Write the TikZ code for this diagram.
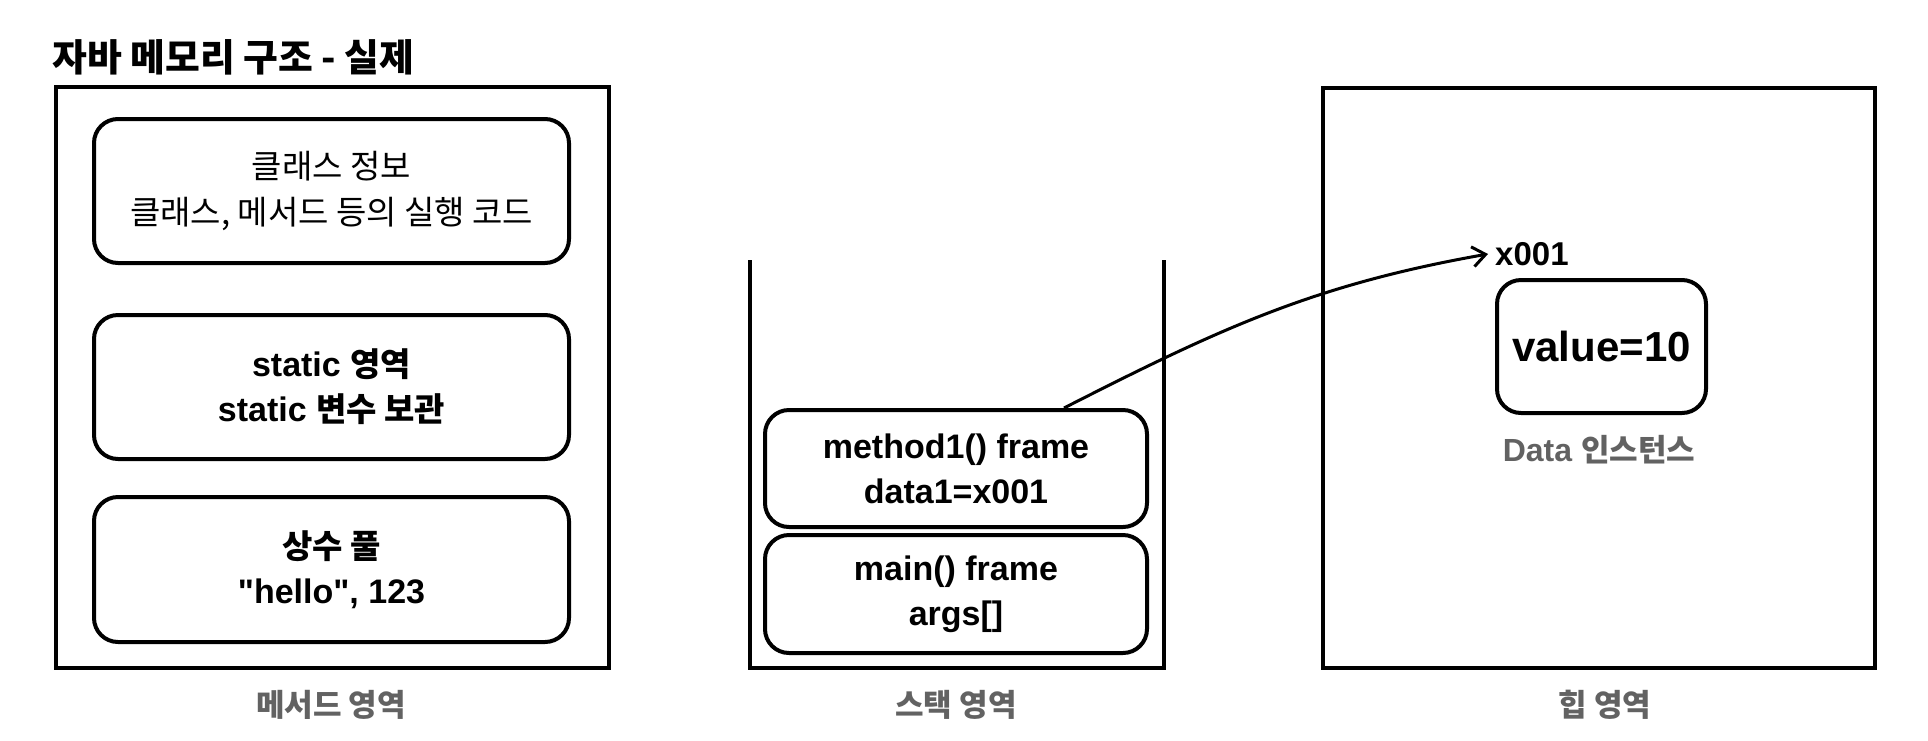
\documentclass[tikz,border=0pt]{standalone}
\usepackage{fontspec}
\setmainfont{Liberation Sans}
\newfontfamily\krfont[Scale=0.97]{Noto Sans CJK KR}
\newcommand{\kr}[1]{{\krfont #1}}
\usetikzlibrary{arrows.meta}
\definecolor{tagGray}{HTML}{626262}
\tikzset{
  font={\fontsize{34pt}{45pt}\selectfont\bfseries}}
\tikzset{
  area/.style={draw, line width=4pt, line join=miter},
  slot/.style={draw, line width=4pt, rounded corners=24pt, align=center},
  tag/.style={text=tagGray, font={\fontsize{32pt}{38pt}\selectfont\bfseries}}}

\begin{document}
\begin{tikzpicture}[x=10pt,y=10pt]
\tikzstyle{every node}+=[inner sep=0pt]
\useasboundingbox (0,0) rectangle (192.8,-74);
\node [anchor=west, font={\fontsize{39pt}{46pt}\selectfont\bfseries}] (title) at (5.2,-5.7) {\kr{자바 메모리 구조 - 실제}};
% method area
\node [area, minimum width=553pt, minimum height=581pt] (methodarea) at (33.25,-37.75) {};
\node [slot, minimum width=475pt, minimum height=144pt, font={\fontsize{34pt}{46pt}\selectfont\mdseries}] (classbox) at (33.15,-19.1) {\kr{클래스 정보}\\\kr{클래스, 메서드 등의 실행 코드}};
\node [slot, minimum width=475pt, minimum height=144pt] (staticbox) at (33.15,-38.7) {static \kr{영역}\\static \kr{변수 보관}};
\node [slot, minimum width=475pt, minimum height=145pt] (poolbox) at (33.15,-56.95) {\kr{상수 풀}\\\textquotedbl hello\textquotedbl, 123};
\node [tag] (methodtag) at (33.1,-70.5) {\kr{메서드 영역}};
% stack area
\draw [area] (75,-26) -- (75,-66.8) -- (116.4,-66.8) -- (116.4,-26);
\node [slot, minimum width=382pt, minimum height=117pt] (m1frame) at (95.6,-46.85) {method1() frame\\data1=x001};
\node [slot, minimum width=382pt, minimum height=118pt] (mainframe) at (95.6,-59.4) {main() frame\\args[]};
\node [tag] (stacktag) at (95.6,-70.5) {\kr{스택 영역}};
% heap area
\node [area, minimum width=552pt, minimum height=580pt] (heaparea) at (159.9,-37.8) {};
\node [slot, minimum width=209pt, minimum height=133pt, font={\fontsize{42pt}{48pt}\selectfont\bfseries}] (valuebox) at (160.15,-34.65) {value=10};
\node [anchor=west, font={\fontsize{33pt}{40pt}\selectfont\bfseries}] (x001) at (149.5,-25.4) {x001};
\node [tag] (datatag) at (159.9,-45) {Data \kr{인스턴스}};
\node [tag] (heaptag) at (160.5,-70.5) {\kr{힙 영역}};
% reference
\draw [line width=3pt, -{Straight Barb[length=13pt,width=20pt]}] ([xshift=-85pt]m1frame.north east) to[out=27,in=190] ([xshift=-7pt]x001.west);
\end{tikzpicture}
\end{document}
